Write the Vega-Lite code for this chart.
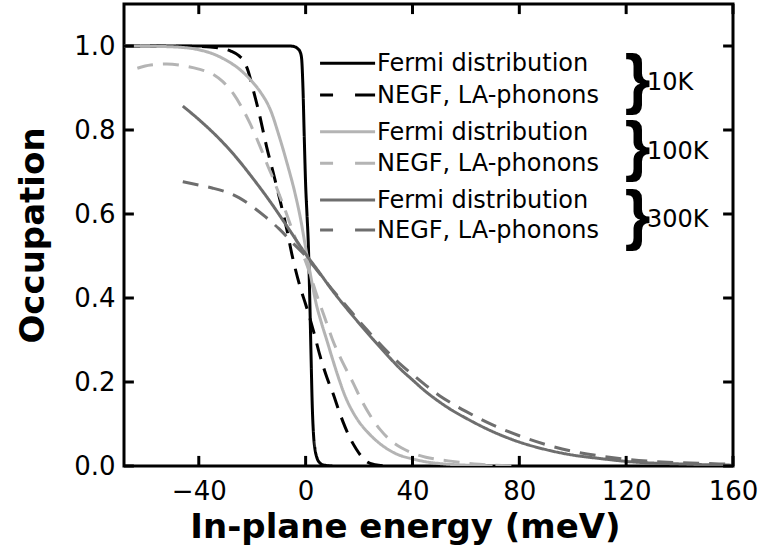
{
  "$schema": "https://vega.github.io/schema/vega-lite/v6.json",
  "autosize": {"type": "none"},
  "width": 609,
  "height": 462,
  "padding": {"left": 124, "top": 4, "right": 34, "bottom": 86},
  "background": "#ffffff",
  "datasets": {
    "curves": [
      {"s": "F10", "e": -68, "f": 1}, {"s": "F10", "e": -6, "f": 1}, {"s": "F10", "e": -4, "f": 0.998}, {"s": "F10", "e": -3, "f": 0.994}, {"s": "F10", "e": -2, "f": 0.985}, {"s": "F10", "e": -1.5, "f": 0.97}, {"s": "F10", "e": -1, "f": 0.9}, {"s": "F10", "e": -0.5, "f": 0.78}, {"s": "F10", "e": 0, "f": 0.67}, {"s": "F10", "e": 0.5, "f": 0.6}, {"s": "F10", "e": 1, "f": 0.53}, {"s": "F10", "e": 1.5, "f": 0.41}, {"s": "F10", "e": 2, "f": 0.27}, {"s": "F10", "e": 2.5, "f": 0.14}, {"s": "F10", "e": 3, "f": 0.07}, {"s": "F10", "e": 3.5, "f": 0.04}, {"s": "F10", "e": 4.2, "f": 0.02}, {"s": "F10", "e": 5.4, "f": 0.007}, {"s": "F10", "e": 7, "f": 0.002}, {"s": "F10", "e": 10, "f": 0},

      {"s": "N10", "e": -68, "f": 1}, {"s": "N10", "e": -40, "f": 0.999}, {"s": "N10", "e": -32, "f": 0.995}, {"s": "N10", "e": -28, "f": 0.988}, {"s": "N10", "e": -25, "f": 0.977}, {"s": "N10", "e": -23, "f": 0.963}, {"s": "N10", "e": -21.5, "f": 0.94}, {"s": "N10", "e": -19.6, "f": 0.895}, {"s": "N10", "e": -17.7, "f": 0.848}, {"s": "N10", "e": -14.6, "f": 0.76}, {"s": "N10", "e": -12, "f": 0.695}, {"s": "N10", "e": -9.6, "f": 0.633}, {"s": "N10", "e": -7, "f": 0.562}, {"s": "N10", "e": -5, "f": 0.5}, {"s": "N10", "e": -2, "f": 0.425}, {"s": "N10", "e": 0, "f": 0.385}, {"s": "N10", "e": 3, "f": 0.32}, {"s": "N10", "e": 5.4, "f": 0.262}, {"s": "N10", "e": 8, "f": 0.21}, {"s": "N10", "e": 10.4, "f": 0.17}, {"s": "N10", "e": 12, "f": 0.14}, {"s": "N10", "e": 14, "f": 0.105}, {"s": "N10", "e": 16.5, "f": 0.068}, {"s": "N10", "e": 19, "f": 0.04}, {"s": "N10", "e": 21, "f": 0.022}, {"s": "N10", "e": 23, "f": 0.01}, {"s": "N10", "e": 26, "f": 0.003}, {"s": "N10", "e": 30, "f": 0},

      {"s": "F100", "e": -68, "f": 1}, {"s": "F100", "e": -55, "f": 0.999}, {"s": "F100", "e": -45, "f": 0.996}, {"s": "F100", "e": -40, "f": 0.991}, {"s": "F100", "e": -35, "f": 0.982}, {"s": "F100", "e": -30, "f": 0.967}, {"s": "F100", "e": -25, "f": 0.946}, {"s": "F100", "e": -20, "f": 0.915}, {"s": "F100", "e": -17, "f": 0.891}, {"s": "F100", "e": -13, "f": 0.845}, {"s": "F100", "e": -10, "f": 0.787}, {"s": "F100", "e": -7, "f": 0.722}, {"s": "F100", "e": -4, "f": 0.65}, {"s": "F100", "e": -2, "f": 0.592}, {"s": "F100", "e": 0, "f": 0.52}, {"s": "F100", "e": 2, "f": 0.449}, {"s": "F100", "e": 4, "f": 0.385}, {"s": "F100", "e": 6, "f": 0.339}, {"s": "F100", "e": 8, "f": 0.298}, {"s": "F100", "e": 10, "f": 0.256}, {"s": "F100", "e": 12, "f": 0.216}, {"s": "F100", "e": 15, "f": 0.163}, {"s": "F100", "e": 18, "f": 0.125}, {"s": "F100", "e": 20, "f": 0.105}, {"s": "F100", "e": 23, "f": 0.082}, {"s": "F100", "e": 26, "f": 0.063}, {"s": "F100", "e": 30, "f": 0.043}, {"s": "F100", "e": 35, "f": 0.026}, {"s": "F100", "e": 40, "f": 0.017}, {"s": "F100", "e": 45, "f": 0.01}, {"s": "F100", "e": 50, "f": 0.006}, {"s": "F100", "e": 60, "f": 0.002}, {"s": "F100", "e": 70, "f": 0},

      {"s": "N100", "e": -63, "f": 0.947}, {"s": "N100", "e": -58, "f": 0.955}, {"s": "N100", "e": -52, "f": 0.957}, {"s": "N100", "e": -45, "f": 0.952}, {"s": "N100", "e": -40, "f": 0.945}, {"s": "N100", "e": -35, "f": 0.934}, {"s": "N100", "e": -31, "f": 0.915}, {"s": "N100", "e": -27, "f": 0.886}, {"s": "N100", "e": -24, "f": 0.855}, {"s": "N100", "e": -21, "f": 0.818}, {"s": "N100", "e": -17, "f": 0.76}, {"s": "N100", "e": -14, "f": 0.712}, {"s": "N100", "e": -12.5, "f": 0.69}, {"s": "N100", "e": -10, "f": 0.648}, {"s": "N100", "e": -8, "f": 0.615}, {"s": "N100", "e": -6, "f": 0.58}, {"s": "N100", "e": -4, "f": 0.545}, {"s": "N100", "e": -2, "f": 0.515}, {"s": "N100", "e": 0, "f": 0.487}, {"s": "N100", "e": 2, "f": 0.45}, {"s": "N100", "e": 4, "f": 0.41}, {"s": "N100", "e": 6, "f": 0.374}, {"s": "N100", "e": 8, "f": 0.338}, {"s": "N100", "e": 10, "f": 0.302}, {"s": "N100", "e": 13, "f": 0.258}, {"s": "N100", "e": 16, "f": 0.22}, {"s": "N100", "e": 18, "f": 0.195}, {"s": "N100", "e": 20.4, "f": 0.163}, {"s": "N100", "e": 24, "f": 0.122}, {"s": "N100", "e": 28, "f": 0.086}, {"s": "N100", "e": 32, "f": 0.06}, {"s": "N100", "e": 36, "f": 0.043}, {"s": "N100", "e": 40, "f": 0.031}, {"s": "N100", "e": 45, "f": 0.021}, {"s": "N100", "e": 50, "f": 0.015}, {"s": "N100", "e": 55, "f": 0.011}, {"s": "N100", "e": 60, "f": 0.007}, {"s": "N100", "e": 65, "f": 0.004}, {"s": "N100", "e": 70, "f": 0.002}, {"s": "N100", "e": 80, "f": 0},

      {"s": "F300", "e": -46, "f": 0.857}, {"s": "F300", "e": -40, "f": 0.825}, {"s": "F300", "e": -32, "f": 0.777}, {"s": "F300", "e": -26, "f": 0.735}, {"s": "F300", "e": -20, "f": 0.687}, {"s": "F300", "e": -13, "f": 0.627}, {"s": "F300", "e": -7, "f": 0.571}, {"s": "F300", "e": 0, "f": 0.505}, {"s": "F300", "e": 5, "f": 0.462}, {"s": "F300", "e": 10, "f": 0.418}, {"s": "F300", "e": 15, "f": 0.378}, {"s": "F300", "e": 20, "f": 0.34}, {"s": "F300", "e": 25, "f": 0.303}, {"s": "F300", "e": 30, "f": 0.268}, {"s": "F300", "e": 35, "f": 0.234}, {"s": "F300", "e": 40, "f": 0.205}, {"s": "F300", "e": 45, "f": 0.177}, {"s": "F300", "e": 50, "f": 0.153}, {"s": "F300", "e": 55, "f": 0.132}, {"s": "F300", "e": 60, "f": 0.114}, {"s": "F300", "e": 70, "f": 0.082}, {"s": "F300", "e": 80, "f": 0.057}, {"s": "F300", "e": 90, "f": 0.039}, {"s": "F300", "e": 100, "f": 0.026}, {"s": "F300", "e": 110, "f": 0.018}, {"s": "F300", "e": 120, "f": 0.011}, {"s": "F300", "e": 130, "f": 0.007}, {"s": "F300", "e": 140, "f": 0.005}, {"s": "F300", "e": 150, "f": 0.003}, {"s": "F300", "e": 160, "f": 0.002},

      {"s": "N300", "e": -46, "f": 0.677}, {"s": "N300", "e": -40, "f": 0.669}, {"s": "N300", "e": -35, "f": 0.662}, {"s": "N300", "e": -30, "f": 0.653}, {"s": "N300", "e": -25, "f": 0.639}, {"s": "N300", "e": -20, "f": 0.618}, {"s": "N300", "e": -15, "f": 0.593}, {"s": "N300", "e": -10, "f": 0.565}, {"s": "N300", "e": -5, "f": 0.532}, {"s": "N300", "e": 0, "f": 0.5}, {"s": "N300", "e": 5, "f": 0.46}, {"s": "N300", "e": 10, "f": 0.42}, {"s": "N300", "e": 15, "f": 0.383}, {"s": "N300", "e": 20, "f": 0.345}, {"s": "N300", "e": 25, "f": 0.31}, {"s": "N300", "e": 30, "f": 0.276}, {"s": "N300", "e": 35, "f": 0.245}, {"s": "N300", "e": 40, "f": 0.218}, {"s": "N300", "e": 45, "f": 0.192}, {"s": "N300", "e": 50, "f": 0.168}, {"s": "N300", "e": 55, "f": 0.148}, {"s": "N300", "e": 60, "f": 0.13}, {"s": "N300", "e": 70, "f": 0.098}, {"s": "N300", "e": 80, "f": 0.072}, {"s": "N300", "e": 90, "f": 0.051}, {"s": "N300", "e": 100, "f": 0.035}, {"s": "N300", "e": 110, "f": 0.024}, {"s": "N300", "e": 120, "f": 0.016}, {"s": "N300", "e": 130, "f": 0.011}, {"s": "N300", "e": 140, "f": 0.008}, {"s": "N300", "e": 150, "f": 0.006}, {"s": "N300", "e": 160, "f": 0.004}
    ],
    "keys": [
      {"s": "F10", "kind": "solid", "label": "Fermi distribution", "x1": 5.4, "x2": 26, "y": 0.9588},
      {"s": "N10", "kind": "dashed", "label": "NEGF, LA-phonons", "x1": 5.4, "x2": 26, "y": 0.8833},
      {"s": "F100", "kind": "solid", "label": "Fermi distribution", "x1": 5.4, "x2": 26, "y": 0.796},
      {"s": "N100", "kind": "dashed", "label": "NEGF, LA-phonons", "x1": 5.4, "x2": 26, "y": 0.7206},
      {"s": "F300", "kind": "solid", "label": "Fermi distribution", "x1": 5.4, "x2": 26, "y": 0.6333},
      {"s": "N300", "kind": "dashed", "label": "NEGF, LA-phonons", "x1": 5.4, "x2": 26, "y": 0.5619}
    ],
    "groups": [
      {"temp": "10K", "y": 0.9167, "ty": 0.912},
      {"temp": "100K", "y": 0.757, "ty": 0.748},
      {"temp": "300K", "y": 0.593, "ty": 0.586}
    ],
    "tickmarks": [
      {"x1": -40, "x2": -40, "y1": 0, "y2": 0.024}, {"x1": 0, "x2": 0, "y1": 0, "y2": 0.024}, {"x1": 40, "x2": 40, "y1": 0, "y2": 0.024},
      {"x1": 80, "x2": 80, "y1": 0, "y2": 0.024}, {"x1": 120, "x2": 120, "y1": 0, "y2": 0.024}, {"x1": 160, "x2": 160, "y1": 0, "y2": 0.024},
      {"x1": -40, "x2": -40, "y1": 1.1, "y2": 1.076}, {"x1": 0, "x2": 0, "y1": 1.1, "y2": 1.076}, {"x1": 40, "x2": 40, "y1": 1.1, "y2": 1.076},
      {"x1": 80, "x2": 80, "y1": 1.1, "y2": 1.076}, {"x1": 120, "x2": 120, "y1": 1.1, "y2": 1.076}, {"x1": 160, "x2": 160, "y1": 1.1, "y2": 1.076},
      {"x1": -68, "x2": -64.3, "y1": 0, "y2": 0}, {"x1": -68, "x2": -64.3, "y1": 0.2, "y2": 0.2}, {"x1": -68, "x2": -64.3, "y1": 0.4, "y2": 0.4},
      {"x1": -68, "x2": -64.3, "y1": 0.6, "y2": 0.6}, {"x1": -68, "x2": -64.3, "y1": 0.8, "y2": 0.8}, {"x1": -68, "x2": -64.3, "y1": 1.0, "y2": 1.0},
      {"x1": 160, "x2": 156.3, "y1": 0, "y2": 0}, {"x1": 160, "x2": 156.3, "y1": 0.2, "y2": 0.2}, {"x1": 160, "x2": 156.3, "y1": 0.4, "y2": 0.4},
      {"x1": 160, "x2": 156.3, "y1": 0.6, "y2": 0.6}, {"x1": 160, "x2": 156.3, "y1": 0.8, "y2": 0.8}, {"x1": 160, "x2": 156.3, "y1": 1.0, "y2": 1.0}
    ]
  },
  "layer": [
    {
      "data": {"name": "curves"},
      "mark": {"type": "line", "strokeWidth": 3, "interpolate": "monotone", "clip": true},
      "encoding": {
        "x": {
          "field": "e", "type": "quantitative",
          "scale": {"domain": [-68, 160], "nice": false, "zero": false},
          "axis": {"orient": "bottom", "values": [-40, 0, 40, 80, 120, 160], "ticks": false, "labelPadding": 12, "labelBaseline": "top",
                   "title": "In-plane energy (meV)", "titleX": 281, "titleY": 71, "titleAlign": "center", "titleBaseline": "alphabetic"}
        },
        "y": {
          "field": "f", "type": "quantitative",
          "scale": {"domain": [0, 1.1], "nice": false, "zero": false},
          "axis": {"orient": "left", "values": [0, 0.2, 0.4, 0.6, 0.8, 1.0], "format": ".1f", "ticks": false, "labelPadding": 9, "labelBaseline": "middle",
                   "title": "Occupation", "titleX": -81, "titleY": 231, "titleAngle": 270, "titleAlign": "center", "titleBaseline": "alphabetic"}
        },
        "color": {
          "field": "s", "type": "nominal", "legend": null,
          "scale": {"domain": ["F10", "N10", "F100", "N100", "F300", "N300"],
                    "range": ["#000000", "#000000", "#b4b4b4", "#b4b4b4", "#6e6e6e", "#6e6e6e"]}
        },
        "strokeDash": {
          "field": "s", "type": "nominal", "legend": null,
          "scale": {"domain": ["F10", "N10", "F100", "N100", "F300", "N300"],
                    "range": [[1, 0], [16, 10], [1, 0], [16, 10], [1, 0], [16, 10]]}
        }
      }
    },
    {
      "data": {"name": "tickmarks"},
      "mark": {"type": "rule", "strokeWidth": 3, "color": "#000000"},
      "encoding": {
        "x": {"field": "x1", "type": "quantitative"},
        "x2": {"field": "x2"},
        "y": {"field": "y1", "type": "quantitative"},
        "y2": {"field": "y2"}
      }
    },
    {
      "data": {"name": "keys"},
      "transform": [{"filter": "datum.kind === 'solid'"}],
      "mark": {"type": "rule", "strokeWidth": 3},
      "encoding": {
        "x": {"field": "x1", "type": "quantitative"},
        "x2": {"field": "x2"},
        "y": {"field": "y", "type": "quantitative"},
        "color": {"field": "s", "type": "nominal", "legend": null}
      }
    },
    {
      "data": {"name": "keys"},
      "transform": [{"filter": "datum.kind === 'dashed'"}],
      "mark": {"type": "rule", "strokeWidth": 3, "strokeDash": [13, 22, 20, 0]},
      "encoding": {
        "x": {"field": "x1", "type": "quantitative"},
        "x2": {"field": "x2"},
        "y": {"field": "y", "type": "quantitative"},
        "color": {"field": "s", "type": "nominal", "legend": null}
      }
    },
    {
      "data": {"name": "keys"},
      "mark": {"type": "text", "align": "left", "baseline": "middle", "dx": 2, "dy": 1, "font": "DejaVu Sans", "fontSize": 24, "color": "#000000"},
      "encoding": {
        "x": {"field": "x2", "type": "quantitative"},
        "y": {"field": "y", "type": "quantitative"},
        "text": {"field": "label"}
      }
    },
    {
      "data": {"name": "groups"},
      "mark": {"type": "text", "align": "left", "baseline": "middle", "font": "Liberation Sans", "fontWeight": "bold", "fontSize": 66, "color": "#000000", "text": "}"},
      "encoding": {
        "x": {"datum": 119.5, "type": "quantitative"},
        "y": {"field": "y", "type": "quantitative"}
      }
    },
    {
      "data": {"name": "groups"},
      "mark": {"type": "text", "align": "left", "baseline": "middle", "font": "DejaVu Sans", "fontSize": 24, "color": "#000000"},
      "encoding": {
        "x": {"datum": 127.8, "type": "quantitative"},
        "y": {"field": "ty", "type": "quantitative"},
        "text": {"field": "temp"}
      }
    }
  ],
  "config": {
    "view": {"stroke": "#000000", "strokeWidth": 3},
    "axis": {
      "domain": false,
      "grid": false,
      "labelFont": "DejaVu Sans",
      "labelFontSize": 26,
      "labelColor": "#000000",
      "labelFlush": false,
      "labelOverlap": false,
      "titleFont": "DejaVu Sans",
      "titleFontWeight": "bold",
      "titleFontSize": 34,
      "titleColor": "#000000"
    }
  }
}
